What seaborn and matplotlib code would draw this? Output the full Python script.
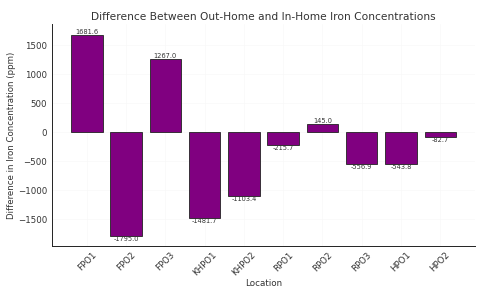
import matplotlib
matplotlib.use("Agg")
import matplotlib.pyplot as plt
import seaborn as sns
import pandas as pd

locations = ["FPO1", "FPO2", "FPO3", "KHPO1", "KHPO2", "RPO1", "RPO2", "RPO3", "HPO1", "HPO2"]
differences = [1681.6, -1795.0, 1267.0, -1481.7, -1103.4, -215.7, 145.0, -556.9, -543.8, -82.7]

df = pd.DataFrame({"Location": locations, "Difference": differences})

sns.set_style("white")
plt.rcParams["font.family"] = ["DejaVu Sans"]

fig, ax = plt.subplots(figsize=(4.8, 2.88), dpi=100)
sns.barplot(data=df, x="Location", y="Difference", color="#800080", saturation=1,
            edgecolor="#222222", linewidth=0.6, width=0.8, ax=ax)
ax.set_xlim(-0.89, 9.89)
ax.set_ylim(-1969, 1855)
ax.grid(True, color="#f8f8f8", linewidth=0.5)
ax.set_axisbelow(True)

for p, v in zip(ax.patches, differences):
    x = p.get_x() + p.get_width() / 2
    ax.text(x, v, f"{v:.1f}", ha="center", va="bottom" if v >= 0 else "top",
            fontsize=4.8, color="#333333")

ax.set_title("Difference Between Out-Home and In-Home Iron Concentrations",
             fontsize=7.7, color="#333333", pad=3.5)
ax.set_xlabel("Location", fontsize=6.3, color="#333333", labelpad=1)
ax.set_ylabel("Difference in Iron Concentration (ppm)", fontsize=6.2, color="#333333", labelpad=1)
ax.tick_params(axis="both", direction="in", labelsize=6.2, length=2, width=0.5,
               colors="#333333", labelcolor="#333333")
ax.tick_params(axis="x", pad=3)
plt.setp(ax.get_xticklabels(), rotation=45, ha="center")
sns.despine(ax=ax)
for s in ["left", "bottom"]:
    ax.spines[s].set_linewidth(0.7)
    ax.spines[s].set_color("#222222")

fig.subplots_adjust(left=0.108, right=0.99, top=0.915, bottom=0.145)
fig.savefig("out.png", dpi=100)
